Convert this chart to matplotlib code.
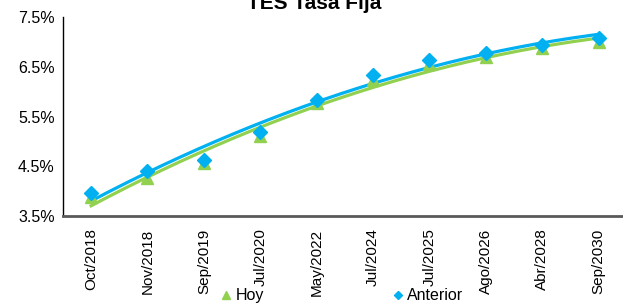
import matplotlib
matplotlib.use("Agg")
import matplotlib.pyplot as plt
import numpy as np

plt.rcParams['font.family'] = ['Liberation Sans', 'DejaVu Sans']

categories = ["Oct/2018", "Nov/2018", "Sep/2019", "Jul/2020", "May/2022",
              "Jul/2024", "Jul/2025", "Ago/2026", "Abr/2028", "Sep/2030"]
hoy = [3.88, 4.26, 4.57, 5.11, 5.77, 6.23, 6.55, 6.70, 6.88, 7.00]
anterior = [3.96, 4.40, 4.63, 5.19, 5.83, 6.33, 6.64, 6.78, 6.94, 7.08]
yticks = [3.5, 4.5, 5.5, 6.5, 7.5]

green = "#92D050"
blue = "#00B0F0"

fig = plt.figure(figsize=(6.23, 3.05), dpi=100)
ax = fig.add_axes([0.101, 0.292, 0.905, 0.652])

x = np.arange(len(categories))
xf = np.linspace(0, len(categories) - 1, 200)

ch = np.polyfit(x, hoy, 2)
ca = np.polyfit(x, anterior, 2)

ax.plot(xf, np.polyval(ch, xf), color=green, lw=2.3, zorder=2)
ax.plot(xf, np.polyval(ca, xf), color=blue, lw=2.3, zorder=3)
ax.plot(x, hoy, linestyle='none', marker='^', markersize=9, color=green,
        label='Hoy', zorder=4)
ax.plot(x, anterior, linestyle='none', marker='D', markersize=7, color=blue,
        label='Anterior', zorder=5)

ax.set_xlim(-0.5, len(categories) - 0.5)
ax.set_ylim(3.5, 7.5)
ax.set_yticks(yticks)
ax.set_yticklabels([f"{v:.1f}%" for v in yticks], fontsize=11.5)
ax.set_xticks(x)
ax.set_xticklabels(categories, rotation=90, fontsize=11)
ax.tick_params(length=0, pad=6)
ax.tick_params(axis='x', pad=9)

for s in ['top', 'right']:
    ax.spines[s].set_visible(False)
ax.spines['left'].set_color('black')
ax.spines['left'].set_linewidth(1.0)
ax.spines['bottom'].set_color('#595959')
ax.spines['bottom'].set_linewidth(2.0)

fig.text(0.505, 0.99, "TES Tasa Fija", ha='center', va='center',
         fontsize=15, fontweight='bold')

fig.legend(loc='center', bbox_to_anchor=(0.548, 0.03), ncol=2, frameon=False,
           fontsize=11.5, handlelength=0.8, handletextpad=0.2, columnspacing=8,
           markerscale=0.65)

fig.savefig("out.png", dpi=100)
